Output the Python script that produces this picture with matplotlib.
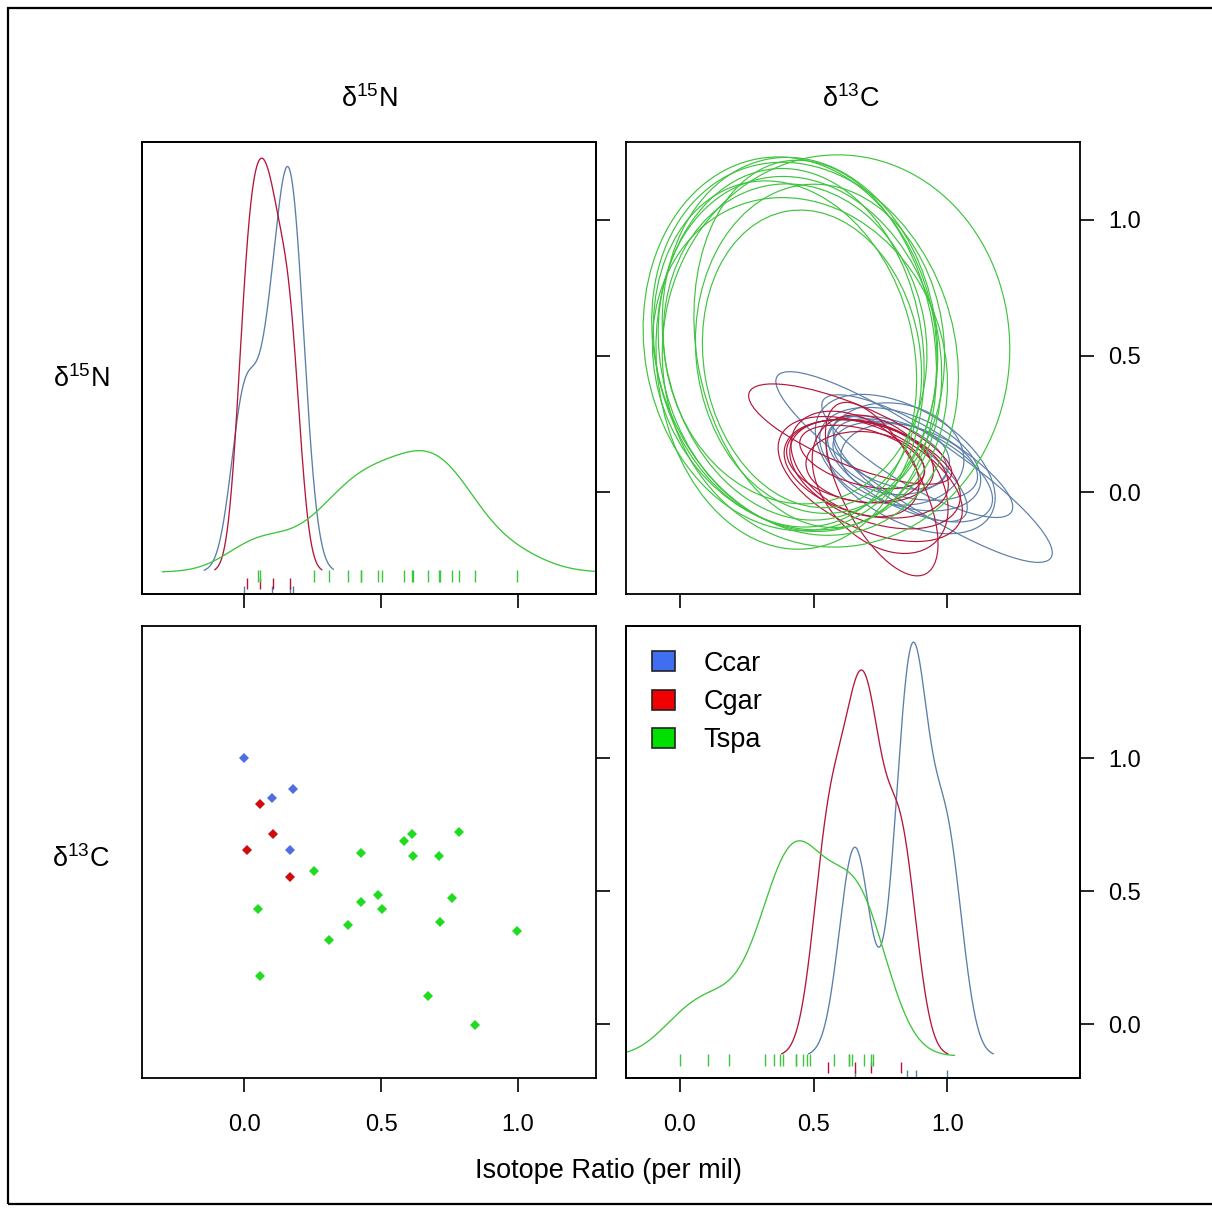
import numpy as np
import matplotlib
matplotlib.use("Agg")
import matplotlib.pyplot as plt
from matplotlib.patches import Ellipse, Patch, Rectangle

plt.rcParams['font.family'] = ['Liberation Sans', 'DejaVu Sans']
plt.rcParams['mathtext.fontset'] = 'custom'
plt.rcParams['mathtext.rm'] = 'Liberation Sans'

# ---- data (scaled isotope values) ----
groups = ["Ccar", "Cgar", "Tspa"]

ccar_n = [0.00, 0.179, 0.100, 0.168]
ccar_c = [1.00, 0.885, 0.850, 0.654]

cgar_n = [0.057, 0.105, 0.008, 0.167]
cgar_c = [0.828, 0.715, 0.654, 0.555]

tspa_n = [0.425, 0.254, 0.585, 0.614, 0.786, 0.616, 0.712, 0.051, 0.487, 0.425,
          0.502, 0.758, 0.377, 0.716, 0.309, 0.996, 0.057, 0.670, 0.842]
tspa_c = [0.645, 0.575, 0.687, 0.715, 0.724, 0.633, 0.633, 0.435, 0.486, 0.460,
          0.435, 0.476, 0.373, 0.386, 0.317, 0.351, 0.182, 0.106, -0.001]

# posterior ellipses: (centre d13C, centre d15N, width, height, angle)
ccar_ellipses = [
    (0.876, 0.092, 1.222, 0.259, -33),
    (0.888, 0.132, 0.815, 0.222, -30),
    (0.824, 0.121, 0.630, 0.333, -20),
    (0.843, 0.114, 0.556, 0.259, -15),
    (0.805, 0.140, 0.519, 0.370, -10),
    (0.861, 0.085, 0.667, 0.296, -25),
    (0.787, 0.140, 0.444, 0.222, -20),
    (0.843, 0.103, 0.741, 0.407, -30),
    (0.824, 0.085, 0.593, 0.222, -35),
    (0.805, 0.121, 0.407, 0.259, -5),
]
cgar_ellipses = [
    (0.637, 0.213, 0.815, 0.222, -22),
    (0.755, 0.011, 0.704, 0.296, -62),
    (0.697, 0.085, 0.630, 0.333, -15),
    (0.674, 0.114, 0.556, 0.296, -10),
    (0.730, 0.066, 0.667, 0.352, -20),
    (0.693, 0.092, 0.444, 0.259, -5),
    (0.712, 0.048, 0.741, 0.370, -25),
    (0.655, 0.103, 0.519, 0.333, -30),
    (0.749, 0.029, 0.593, 0.407, -45),
    (0.682, 0.129, 0.481, 0.204, -15),
]
tspa_ellipses = [
    (0.584, 0.518, 1.30, 1.44, -3),
    (0.412, 0.544, 1.09, 1.38, 10),
    (0.449, 0.507, 1.04, 1.32, 15),
    (0.494, 0.489, 0.81, 1.10, 10),
    (0.431, 0.544, 0.98, 1.18, 10),
    (0.468, 0.526, 1.11, 1.40, 20),
    (0.412, 0.489, 1.00, 1.40, 5),
    (0.506, 0.544, 0.89, 1.36, 10),
    (0.449, 0.471, 1.07, 1.25, 25),
    (0.393, 0.507, 0.96, 1.29, 15),
    (0.524, 0.526, 0.93, 1.21, 5),
    (0.449, 0.563, 1.02, 1.34, 10),
]

N_LIM = (-0.374, 1.285)
C_LIM = (-0.202, 1.497)
TICKS = [0.0, 0.5, 1.0]
TICK_LABELS = ["0.0", "0.5", "1.0"]

point_cols = {"Ccar": "#4f6fe0", "Cgar": "#d10a0a", "Tspa": "#1fdc1f"}
line_cols = {"Ccar": "#5a7ea8", "Cgar": "#b3163a", "Tspa": "#3ec43e"}
legend_cols = {"Ccar": "#3f6ff0", "Cgar": "#f00000", "Tspa": "#00e000"}
rug_span = {"Ccar": (0.0, 0.018), "Cgar": (0.010, 0.035), "Tspa": (0.027, 0.052)}

n_vals = {"Ccar": ccar_n, "Cgar": cgar_n, "Tspa": tspa_n}
c_vals = {"Ccar": ccar_c, "Cgar": cgar_c, "Tspa": tspa_c}
ellipses = {"Ccar": ccar_ellipses, "Cgar": cgar_ellipses, "Tspa": tspa_ellipses}


def bw_nrd0(x):
    sd = np.std(x, ddof=1)
    q75, q25 = np.percentile(x, [75, 25])
    lo = min(sd, (q75 - q25) / 1.34)
    if lo == 0:
        lo = sd
    return 0.9 * lo * len(x) ** -0.2


def density(x, n=512):
    # gaussian kernel density, like R's density() with cut = 3
    x = np.asarray(x, dtype=float)
    bw = bw_nrd0(x)
    grid = np.linspace(x.min() - 3 * bw, x.max() + 3 * bw, n)
    z = (grid[:, None] - x[None, :]) / bw
    d = np.exp(-0.5 * z ** 2).sum(axis=1) / (len(x) * bw * np.sqrt(2 * np.pi))
    return grid, d


# ---- layout ----
W, H = 1212, 1209
fig = plt.figure(figsize=(W / 100, H / 100), dpi=100)


def rect(x0, y0, x1, y1):
    return [x0 / W, 1 - y1 / H, (x1 - x0) / W, (y1 - y0) / H]


ax_tl = fig.add_axes(rect(142, 142, 596, 594))
ax_tr = fig.add_axes(rect(626, 142, 1080, 594))
ax_bl = fig.add_axes(rect(142, 626, 596, 1078))
ax_br = fig.add_axes(rect(626, 626, 1080, 1078))

TICK_KW = dict(direction="out", length=10, width=1.2, labelsize=17, colors="black")


def style(ax):
    for s in ax.spines.values():
        s.set_linewidth(1.3)
    ax.tick_params(**TICK_KW)


def xticks(ax, lim, labels):
    ax.set_xlim(lim)
    ax.set_xticks(TICKS)
    ax.set_xticklabels(TICK_LABELS if labels else [])
    ax.tick_params(axis="x", pad=16)


def yticks_right(ax, lim, labels):
    ax.set_ylim(lim)
    ax.yaxis.tick_right()
    ax.set_yticks(TICKS)
    ax.set_yticklabels(TICK_LABELS if labels else [])
    ax.tick_params(axis="y", pad=10)


def density_panel(ax, vals, lim, labels):
    curves = {g: density(vals[g]) for g in groups}
    top = max(d.max() for _, d in curves.values())
    for g in groups:
        xs, d = curves[g]
        ax.plot(xs, d, color=line_cols[g], lw=0.95)
        y0, y1 = rug_span[g]
        ax.vlines(vals[g], y0, y1, color=line_cols[g], lw=1.0,
                  transform=ax.get_xaxis_transform())
    ax.set_ylim(-0.053 * top, 1.039 * top)
    ax.set_yticks([])
    style(ax)
    xticks(ax, lim, labels)
    twin = ax.twinx()
    style(twin)
    yticks_right(twin, lim, labels)


# top-left: d15N densities
density_panel(ax_tl, n_vals, N_LIM, labels=False)

# bottom-right: d13C densities
density_panel(ax_br, c_vals, C_LIM, labels=True)

# top-right: ellipses, x = d13C, y = d15N
for g in groups:
    for cx, cy, w, h, ang in ellipses[g]:
        ax_tr.add_patch(Ellipse((cx, cy), w, h, angle=ang, fill=False,
                                edgecolor=line_cols[g], lw=0.85))
style(ax_tr)
xticks(ax_tr, C_LIM, labels=False)
yticks_right(ax_tr, N_LIM, labels=True)

# bottom-left: scatter, x = d15N, y = d13C
for g in groups:
    ax_bl.plot(n_vals[g], c_vals[g], "D", ms=5.5, color=point_cols[g], mew=0)
style(ax_bl)
xticks(ax_bl, N_LIM, labels=True)
yticks_right(ax_bl, C_LIM, labels=False)

# legend
handles = [Patch(facecolor=legend_cols[g], edgecolor="#222222", lw=1.2) for g in groups]
ax_br.legend(handles, groups, loc="upper left", bbox_to_anchor=(0.058, 0.945),
             frameon=False, fontsize=19.5, handlelength=0.85, handleheight=0.75,
             handletextpad=1.05, labelspacing=0.45, borderpad=0, borderaxespad=0)

# variable names
lab_n = r"$\mathregular{δ^{15}N}$"
lab_c = r"$\mathregular{δ^{13}C}$"
fig.text(369 / W, 1 - 107 / H, lab_n, ha="center", va="baseline", fontsize=19.5)
fig.text(851 / W, 1 - 107 / H, lab_c, ha="center", va="baseline", fontsize=19.5)
fig.text(81 / W, 1 - 387 / H, lab_n, ha="center", va="baseline", fontsize=19.5)
fig.text(81 / W, 1 - 867 / H, lab_c, ha="center", va="baseline", fontsize=19.5)

fig.text(608 / W, 1 - 1178 / H, "Isotope Ratio (per mil)", ha="center",
         va="baseline", fontsize=19.5)

# outer frame
fig.add_artist(Rectangle((8 / W, 1 - 1204 / H), 1230 / W, 1196 / H,
                         transform=fig.transFigure, fill=False, lw=1.6,
                         edgecolor="black", clip_on=False))

fig.savefig("out.png", dpi=100)
